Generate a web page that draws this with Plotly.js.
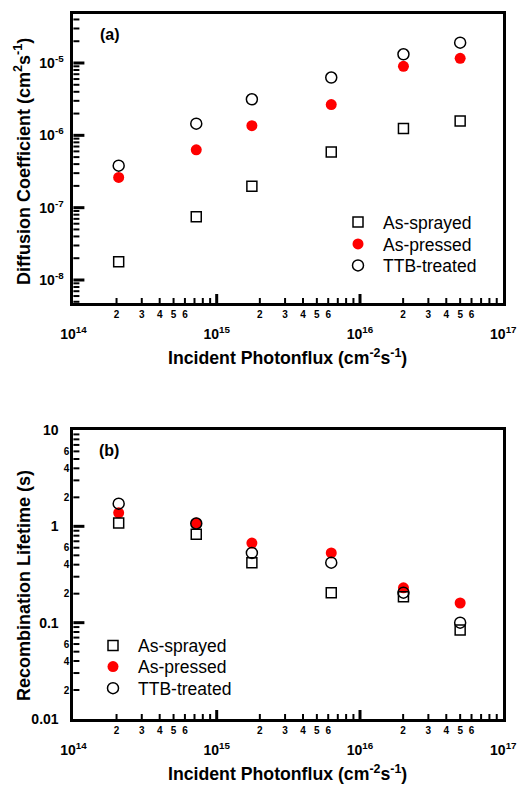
<!DOCTYPE html>
<html>
<head>
<meta charset="utf-8">
<script src="https://cdn.plot.ly/plotly-3.0.1.min.js"></script>
<style>html,body{margin:0;padding:0;background:#fff;}#chart{width:519px;height:785px;}</style>
</head>
<body>
<div id="chart"></div>
<script>
// ---- data ----
const photonFlux = [2.07e14, 7.2e14, 1.76e15, 6.3e15, 2.01e16, 5.0e16];
const seriesNames = ['As-sprayed', 'As-pressed', 'TTB-treated'];
// (a) Diffusion coefficient (cm^2 s^-1)
const diffSprayed = [1.79e-8, 7.5e-8, 1.97e-7, 5.9e-7, 1.24e-6, 1.58e-6];
const diffPressed = [2.62e-7, 6.3e-7, 1.36e-6, 2.66e-6, 9.0e-6, 1.16e-5];
const diffTTB     = [3.81e-7, 1.45e-6, 3.15e-6, 6.3e-6, 1.32e-5, 1.91e-5];
// (b) Recombination lifetime (s)
const lifeSprayed = [1.08, 0.83, 0.42, 0.205, 0.186, 0.084];
const lifePressed = [1.38, 1.08, 0.67, 0.53, 0.23, 0.16];
const lifeTTB     = [1.72, 1.07, 0.53, 0.42, 0.205, 0.10];

// ---- tick labels ----
const xDecades = [1e14, 1e15, 1e16, 1e17];
const xDecadeText = ['10<sup>14</sup>', '10<sup>15</sup>', '10<sup>16</sup>', '10<sup>17</sup>'];
const yADecades = [1e-8, 1e-7, 1e-6, 1e-5];
const yADecadeText = ['10<sup>-8</sup>', '10<sup>-7</sup>', '10<sup>-6</sup>', '10<sup>-5</sup>'];
const yBDecades = [0.01, 0.1, 1, 10];
const yBDecadeText = ['0.01', '0.1', '1', '10'];
const minorMant = [2, 3, 4, 5, 6, 7, 8, 9];
const xMinorLabelMant = [2, 3, 4, 5, 6];      // labelled minor ticks on x
const yBMinorLabelMant = [2, 4, 6];           // labelled minor ticks on y (b)

function build(decs, mants) { const v = []; decs.forEach(d => mants.forEach(m => v.push(m * d))); return v; }
const xMinorDecs = [1e14, 1e15, 1e16];
const xMinorTicks = build(xMinorDecs, minorMant);
const xMinorLabelVals = build(xMinorDecs, xMinorLabelMant);
const xMinorLabelText = xMinorLabelVals.map((v, i) => String(xMinorLabelMant[i % xMinorLabelMant.length]));
const yAMinorTicks = build([1e-9, 1e-8, 1e-7, 1e-6, 1e-5], minorMant);
const yBMinorDecs = [0.01, 0.1, 1];
const yBMinorTicks = build(yBMinorDecs, minorMant);
const yBMinorLabelVals = build(yBMinorDecs, yBMinorLabelMant);
const yBMinorLabelText = yBMinorLabelVals.map((v, i) => String(yBMinorLabelMant[i % yBMinorLabelMant.length]));

const FONT = 'Liberation Sans, Arial, sans-serif';
const W = 519, H = 785;
const fx = p => p / W, fy = p => 1 - p / H;

const xL = 73.4, xR = 503.3;
const xDomain = [fx(xL), fx(xR)];
const xRange = [14, 17];
const yATop = 14, yABot = 303, yBTop = 430, yBBot = 719;
const yARange = [-8.318, -4.3225], yADom = [fy(yABot), fy(yATop)];
const yBRange = [-2, 1], yBDom = [fy(yBBot), fy(yBTop)];
const pxPerDec = (pxLen, r) => pxLen / (r[1] - r[0]);
const pdX = pxPerDec(xR - xL, xRange);
const pdYA = pxPerDec(yABot - yATop, yARange);
const pdYB = pxPerDec(yBBot - yBTop, yBRange);

// ---- inward tick marks: short line markers lying fully inside the frame, starting at its inner edge ----
const inRange = (v, r) => { const l = Math.log10(v); return l > r[0] + 1e-6 && l < r[1] - 1e-6; };
const SYM = 1.4; // plotly line symbols are 1.4 x size long
function tickTrace(xa, ya, vals, range, counterRange, counterPd, vertical, len, width) {
  const v = vals.filter(t => inRange(t, range));
  const at = Math.pow(10, counterRange[0] + (len / 2) / counterPd);
  const fixed = v.map(() => at);
  return {
    x: vertical ? v : fixed, y: vertical ? fixed : v, xaxis: xa, yaxis: ya,
    type: 'scatter', mode: 'markers', showlegend: false, hoverinfo: 'skip', cliponaxis: false,
    marker: {symbol: vertical ? 'line-ns' : 'line-ew', size: len / SYM, color: 'black',
             line: {color: 'black', width: width}}
  };
}
const traces = [
  tickTrace('x', 'y', xMinorTicks, xRange, yARange, pdYA, true, 5, 2),
  tickTrace('x', 'y', xDecades, xRange, yARange, pdYA, true, 9, 3),
  tickTrace('x', 'y', yAMinorTicks, yARange, xRange, pdX, false, 6, 2),
  tickTrace('x', 'y', yADecades, yARange, xRange, pdX, false, 11, 3),
  tickTrace('x2', 'y2', xMinorTicks, xRange, yBRange, pdYB, true, 5, 2),
  tickTrace('x2', 'y2', xDecades, xRange, yBRange, pdYB, true, 9, 3),
  tickTrace('x2', 'y2', yBMinorTicks, yBRange, xRange, pdX, false, 6, 2),
  tickTrace('x2', 'y2', yBDecades, yBRange, xRange, pdX, false, 11, 3)
];

const styles = [
  {symbol: 'square-open', size: 10, color: 'black', line: {color: 'black', width: 1.5}},
  {symbol: 'circle', size: 11, color: '#ff0000', line: {width: 0}},
  {symbol: 'circle-open', size: 11, color: 'black', line: {color: 'black', width: 1.5}}
];
// each series sits on an axis pair; overlay axes share identical ranges with the main ones
const topAxes = [['x3', 'y'], ['x', 'y'], ['x', 'y']];
const botAxes = [['x4', 'y2'], ['x2', 'y2'], ['x2', 'y3']];
const topLegends = ['legend', 'legend2', 'legend3'];
const botLegends = ['legend4', 'legend5', 'legend6'];
[diffSprayed, diffPressed, diffTTB].forEach((ys, i) => traces.push({
  x: photonFlux, y: ys, xaxis: topAxes[i][0], yaxis: topAxes[i][1], type: 'scatter', mode: 'markers',
  name: seriesNames[i], marker: styles[i], legend: topLegends[i], hoverinfo: 'skip'
}));
[lifeSprayed, lifePressed, lifeTTB].forEach((ys, i) => traces.push({
  x: photonFlux, y: ys, xaxis: botAxes[i][0], yaxis: botAxes[i][1], type: 'scatter', mode: 'markers',
  name: seriesNames[i], marker: styles[i], legend: botLegends[i], hoverinfo: 'skip'
}));

const common = {showgrid: false, zeroline: false, automargin: false, fixedrange: true};
const tickFont = s => ({family: FONT, size: s, color: 'black', weight: 'bold'});

function mainX(anchor) {
  return Object.assign({
    type: 'log', range: xRange, domain: xDomain, anchor: anchor,
    showline: true, linewidth: 3, linecolor: 'black', mirror: true, ticks: '',
    tickmode: 'array', tickvals: xDecades, ticktext: xDecadeText,
    tickfont: tickFont(14), ticklabelstandoff: 16
  }, common);
}
function minorLabelX(over, anchor) {
  return Object.assign({
    type: 'log', range: xRange, overlaying: over, anchor: anchor,
    showline: false, ticks: '', tickmode: 'array', tickvals: xMinorLabelVals, ticktext: xMinorLabelText,
    tickfont: tickFont(10), ticklabelstandoff: 4
  }, common);
}
function legendAt(xPx, yPx) {
  return {x: fx(xPx), y: fy(yPx), xanchor: 'left', yanchor: 'middle', bgcolor: 'rgba(0,0,0,0)',
          font: {family: FONT, size: 17.5, color: 'black'}, itemwidth: 40};
}

const layout = {
  width: W, height: H, margin: {l: 0, r: 0, t: 0, b: 0},
  paper_bgcolor: 'white', plot_bgcolor: 'rgba(0,0,0,0)', showlegend: true,
  font: {family: FONT, color: 'black'},
  xaxis: mainX('y'),
  xaxis2: mainX('y2'),
  xaxis3: minorLabelX('x', 'y'),
  xaxis4: minorLabelX('x2', 'y2'),
  yaxis: Object.assign({
    type: 'log', range: yARange, domain: yADom, anchor: 'x',
    showline: true, linewidth: 3, linecolor: 'black', mirror: true, ticks: '',
    tickmode: 'array', tickvals: yADecades, ticktext: yADecadeText,
    tickfont: tickFont(14), ticklabelstandoff: 4
  }, common),
  yaxis2: Object.assign({
    type: 'log', range: yBRange, domain: yBDom, anchor: 'x2',
    showline: true, linewidth: 3, linecolor: 'black', mirror: true, ticks: '',
    tickmode: 'array', tickvals: yBDecades, ticktext: yBDecadeText,
    tickfont: tickFont(14), ticklabelstandoff: 9
  }, common),
  yaxis3: Object.assign({
    type: 'log', range: yBRange, overlaying: 'y2', anchor: 'x2', side: 'left',
    showline: false, ticks: '', tickmode: 'array', tickvals: yBMinorLabelVals, ticktext: yBMinorLabelText,
    tickfont: tickFont(10), ticklabelstandoff: 3
  }, common),
  legend: legendAt(333, 222),
  legend2: legendAt(333, 244),
  legend3: legendAt(333, 265.5),
  legend4: legendAt(88, 645.7),
  legend5: legendAt(88, 666.7),
  legend6: legendAt(88, 688.3),
  annotations: [
    {text: '(a)', x: fx(110), y: fy(35), xref: 'paper', yref: 'paper', showarrow: false, xanchor: 'center', yanchor: 'middle',
     font: tickFont(16)},
    {text: '(b)', x: fx(109), y: fy(450), xref: 'paper', yref: 'paper', showarrow: false, xanchor: 'center', yanchor: 'middle',
     font: tickFont(16)},
    {text: 'Incident Photonflux (cm<sup>-2</sup>s<sup>-1</sup>)', x: fx(288), y: fy(357), xref: 'paper', yref: 'paper', showarrow: false, xanchor: 'center', yanchor: 'middle',
     font: tickFont(17.7)},
    {text: 'Incident Photonflux (cm<sup>-2</sup>s<sup>-1</sup>)', x: fx(288), y: fy(773), xref: 'paper', yref: 'paper', showarrow: false, xanchor: 'center', yanchor: 'middle',
     font: tickFont(17.7)},
    {text: 'Diffusion Coefficient (cm<sup>2</sup>s<sup>-1</sup>)', x: fx(23), y: fy(162), xref: 'paper', yref: 'paper', showarrow: false, textangle: -90, xanchor: 'center', yanchor: 'middle',
     font: tickFont(18)},
    {text: 'Recombination Lifetime (s)', x: fx(24), y: fy(586), xref: 'paper', yref: 'paper', showarrow: false, textangle: -90, xanchor: 'center', yanchor: 'middle',
     font: tickFont(18)}
  ]
};

Plotly.newPlot('chart', traces, layout, {staticPlot: true, displayModeBar: false});
</script>
</body>
</html>
